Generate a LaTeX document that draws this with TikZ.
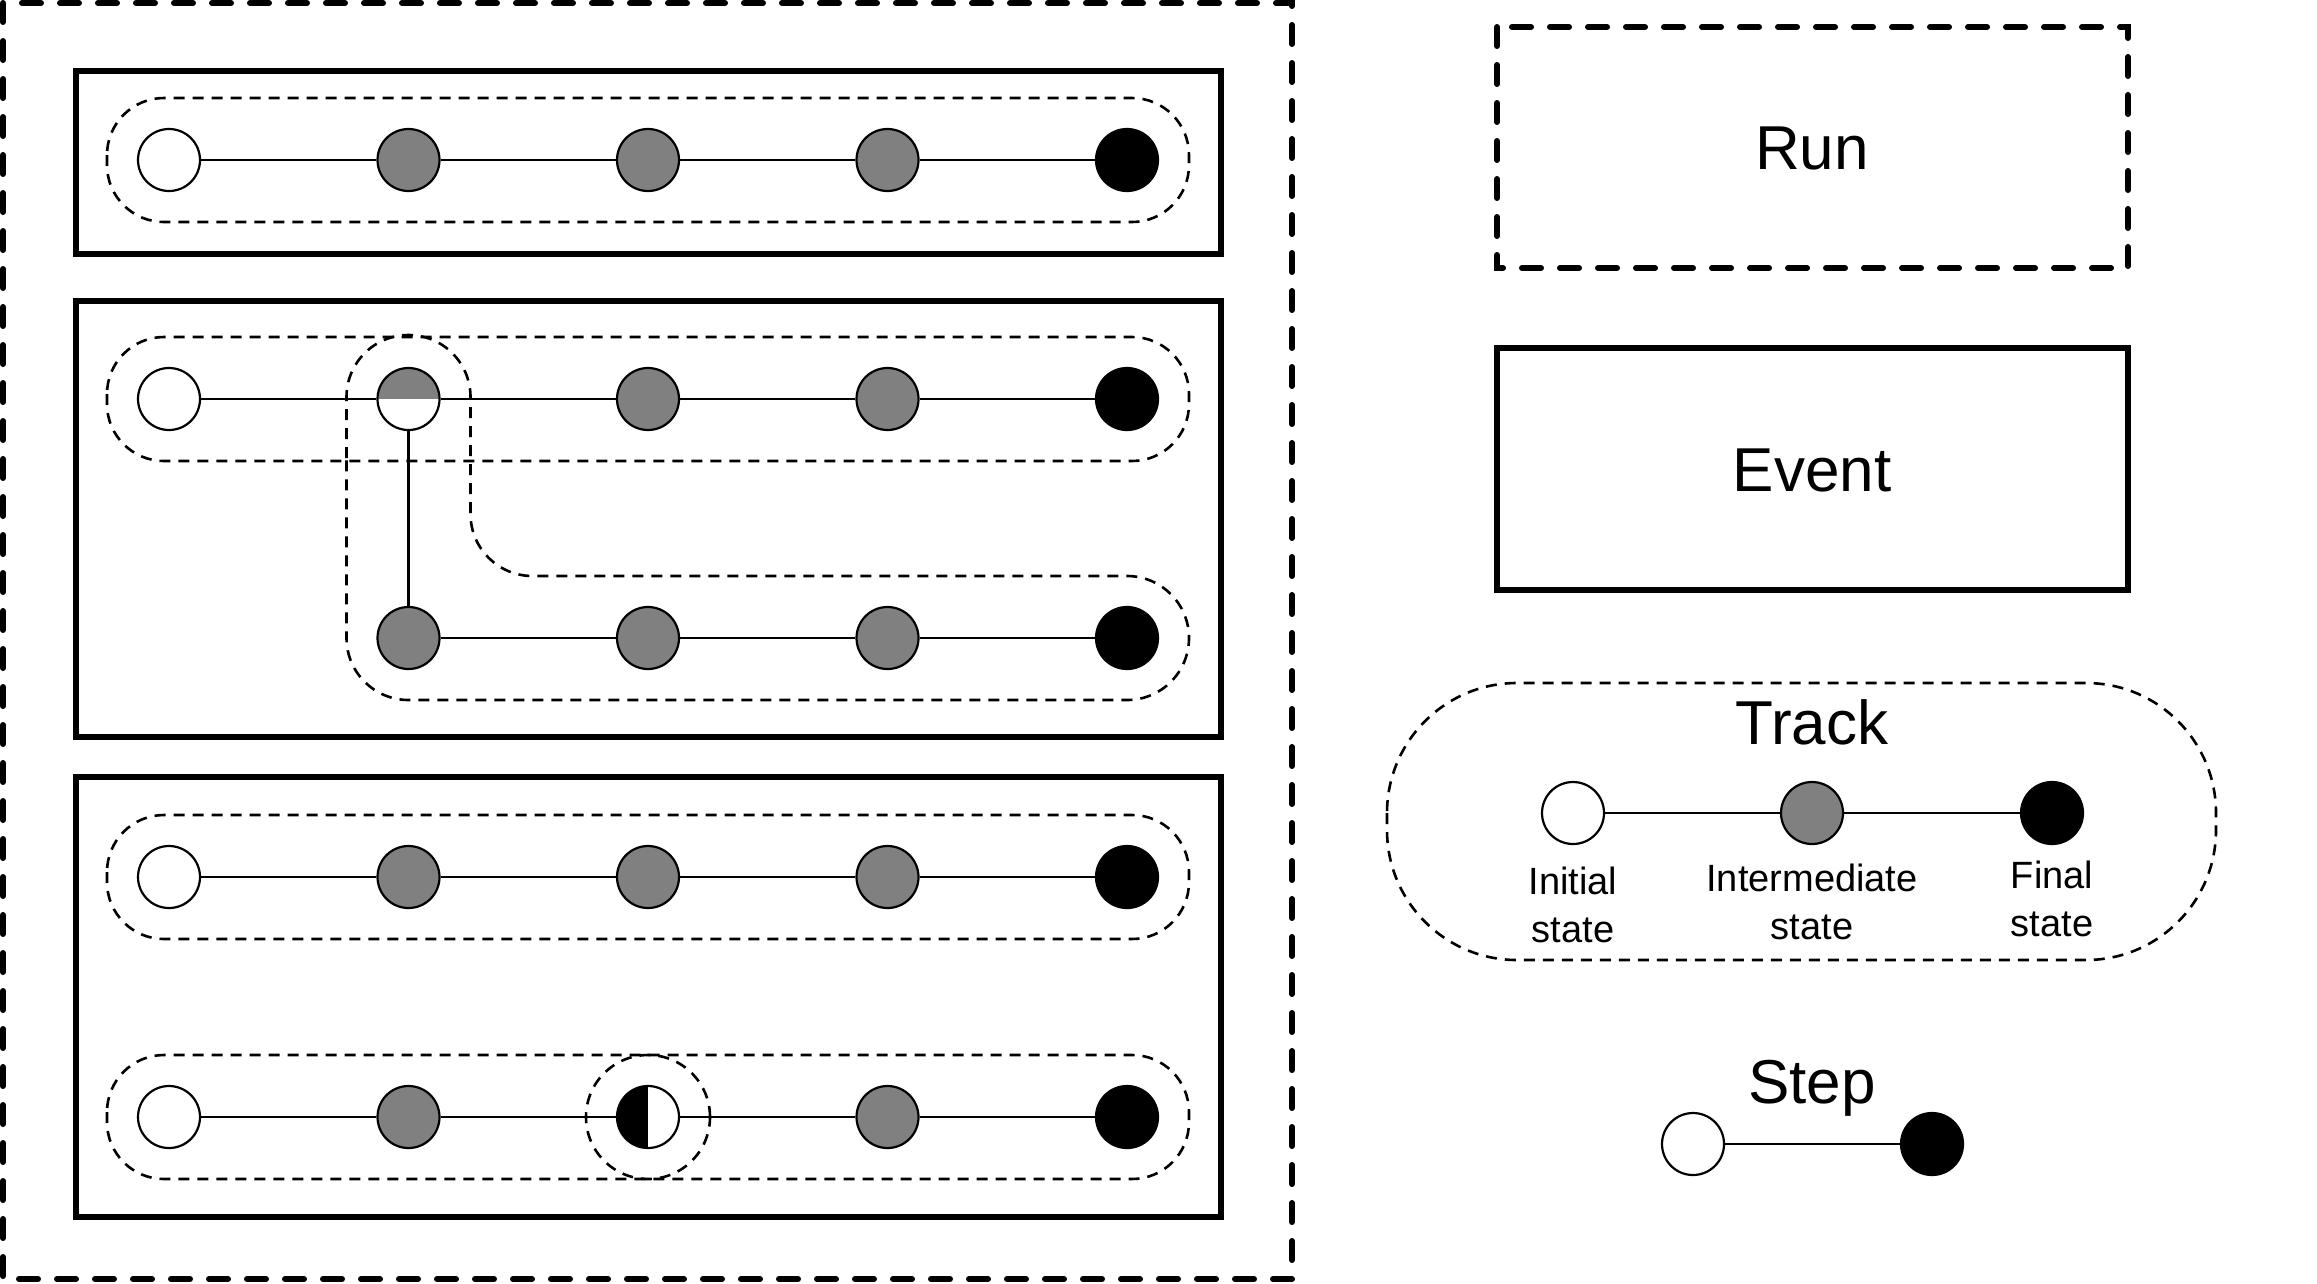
\documentclass[tikz,border=0pt]{standalone}
\usepackage{fontspec}
\setmainfont{Liberation Sans}
\usepackage{tikz}

\begin{document}
\begin{tikzpicture}[x=1pt,y=-1pt,
    runbox/.style={line width=6pt,dash pattern=on 19pt off 19pt,line cap=round},
    eventbox/.style={line width=5.5pt},
    trackbox/.style={line width=2.6pt,dash pattern=on 11pt off 8pt,rounded corners=57pt},
    state/.style={circle,draw,line width=2.2pt,minimum size=62pt,inner sep=0pt},
    init/.style={state,fill=white},
    mid/.style={state,fill=gray},
    fin/.style={state,fill=black},
    splitgray/.style={init,path picture={\fill[gray] (path picture bounding box.west) rectangle (path picture bounding box.north east);}},
    splitblack/.style={init,path picture={\fill[black] (path picture bounding box.south west) rectangle (path picture bounding box.north);}},
    link/.style={line width=2.2pt},
    title/.style={inner sep=0pt,font=\fontsize{62}{74}\selectfont},
    caption/.style={inner sep=0pt,align=center,font=\fontsize{38}{48}\selectfont}]
    \useasboundingbox (0,0) rectangle (2317,1283);

    % Run
    \draw[runbox] (3,3) rectangle (1292,1279);

    % Events
    \draw[eventbox] (76,71) rectangle (1221,254);
    \draw[eventbox] (76,301) rectangle (1221,737);
    \draw[eventbox] (76,777) rectangle (1221,1217);

    % Tracks
    \draw[trackbox] (107,98) rectangle (1189,222);
    \draw[trackbox] (107,337) rectangle (1189,461);
    \draw[trackbox,rounded corners=62pt] (346.5,520) -- (346.5,335) -- (470.5,335)
        -- (470.5,576) -- (1189,576) -- (1189,700) -- (346.5,700) -- cycle;
    \draw[trackbox] (107,815) rectangle (1189,939);
    \draw[trackbox] (107,1055) rectangle (1189,1179);

    % Event 1
    \node[init] (ta1) at (169,160) {};
    \foreach \i in {2,3,4} \node[mid] (ta\i) at ({169+239.5*(\i-1)},160) {};
    \node[fin] (ta5) at (1127,160) {};
    \draw[link] (ta1) -- (ta2) -- (ta3) -- (ta4) -- (ta5);

    % Event 2
    \node[init] (tb1) at (169,399) {};
    \node[splitgray] (tb2) at (408.5,399) {};
    \node[mid] (tb3) at (648,399) {};
    \node[mid] (tb4) at (887.5,399) {};
    \node[fin] (tb5) at (1127,399) {};
    \draw[link] (tb1) -- (tb2) -- (tb3) -- (tb4) -- (tb5);
    \foreach \i in {2,3,4} \node[mid] (tc\i) at ({169+239.5*(\i-1)},638) {};
    \node[fin] (tc5) at (1127,638) {};
    \draw[link] (tc2) -- (tc3) -- (tc4) -- (tc5);
    \draw[link] (tb2) -- (tc2);

    % Event 3
    \node[init] (td1) at (169,877) {};
    \foreach \i in {2,3,4} \node[mid] (td\i) at ({169+239.5*(\i-1)},877) {};
    \node[fin] (td5) at (1127,877) {};
    \draw[link] (td1) -- (td2) -- (td3) -- (td4) -- (td5);
    \node[init] (te1) at (169,1117) {};
    \node[mid] (te2) at (408.5,1117) {};
    \node[splitblack] (te3) at (648,1117) {};
    \node[mid] (te4) at (887.5,1117) {};
    \node[fin] (te5) at (1127,1117) {};
    \draw[link] (te1) -- (te2) -- (te3) -- (te4) -- (te5);
    \draw[trackbox] (te3) circle[radius=62pt];

    % Legend
    \draw[runbox] (1497,27) rectangle (2128,268);
    \node[title] (runlbl) at (1812,148) {Run};
    \draw[eventbox] (1497,348) rectangle (2128,590);
    \node[title] (eventlbl) at (1812,470) {Event};

    \draw[trackbox,rounded corners=130pt] (1387,683) rectangle (2216,960);
    \node[title,anchor=base] (tracklbl) at (1812,744) {Track};
    \node[init] (li) at (1573,813) {};
    \node[mid] (lm) at (1812,813) {};
    \node[fin] (lf) at (2052,813) {};
    \draw[link] (li) -- (lm) -- (lf);
    \node[caption] (lilbl) at (1573,905) {Initial\\state};
    \node[caption] (lmlbl) at (1812,902) {Intermediate\\state};
    \node[caption] (lflbl) at (2052,899) {Final\\state};

    \node[title,anchor=base] (steplbl) at (1812,1103) {Step};
    \node[init] (si) at (1693,1144) {};
    \node[fin] (sf) at (1932,1144) {};
    \draw[link] (si) -- (sf);
\end{tikzpicture}
\end{document}
